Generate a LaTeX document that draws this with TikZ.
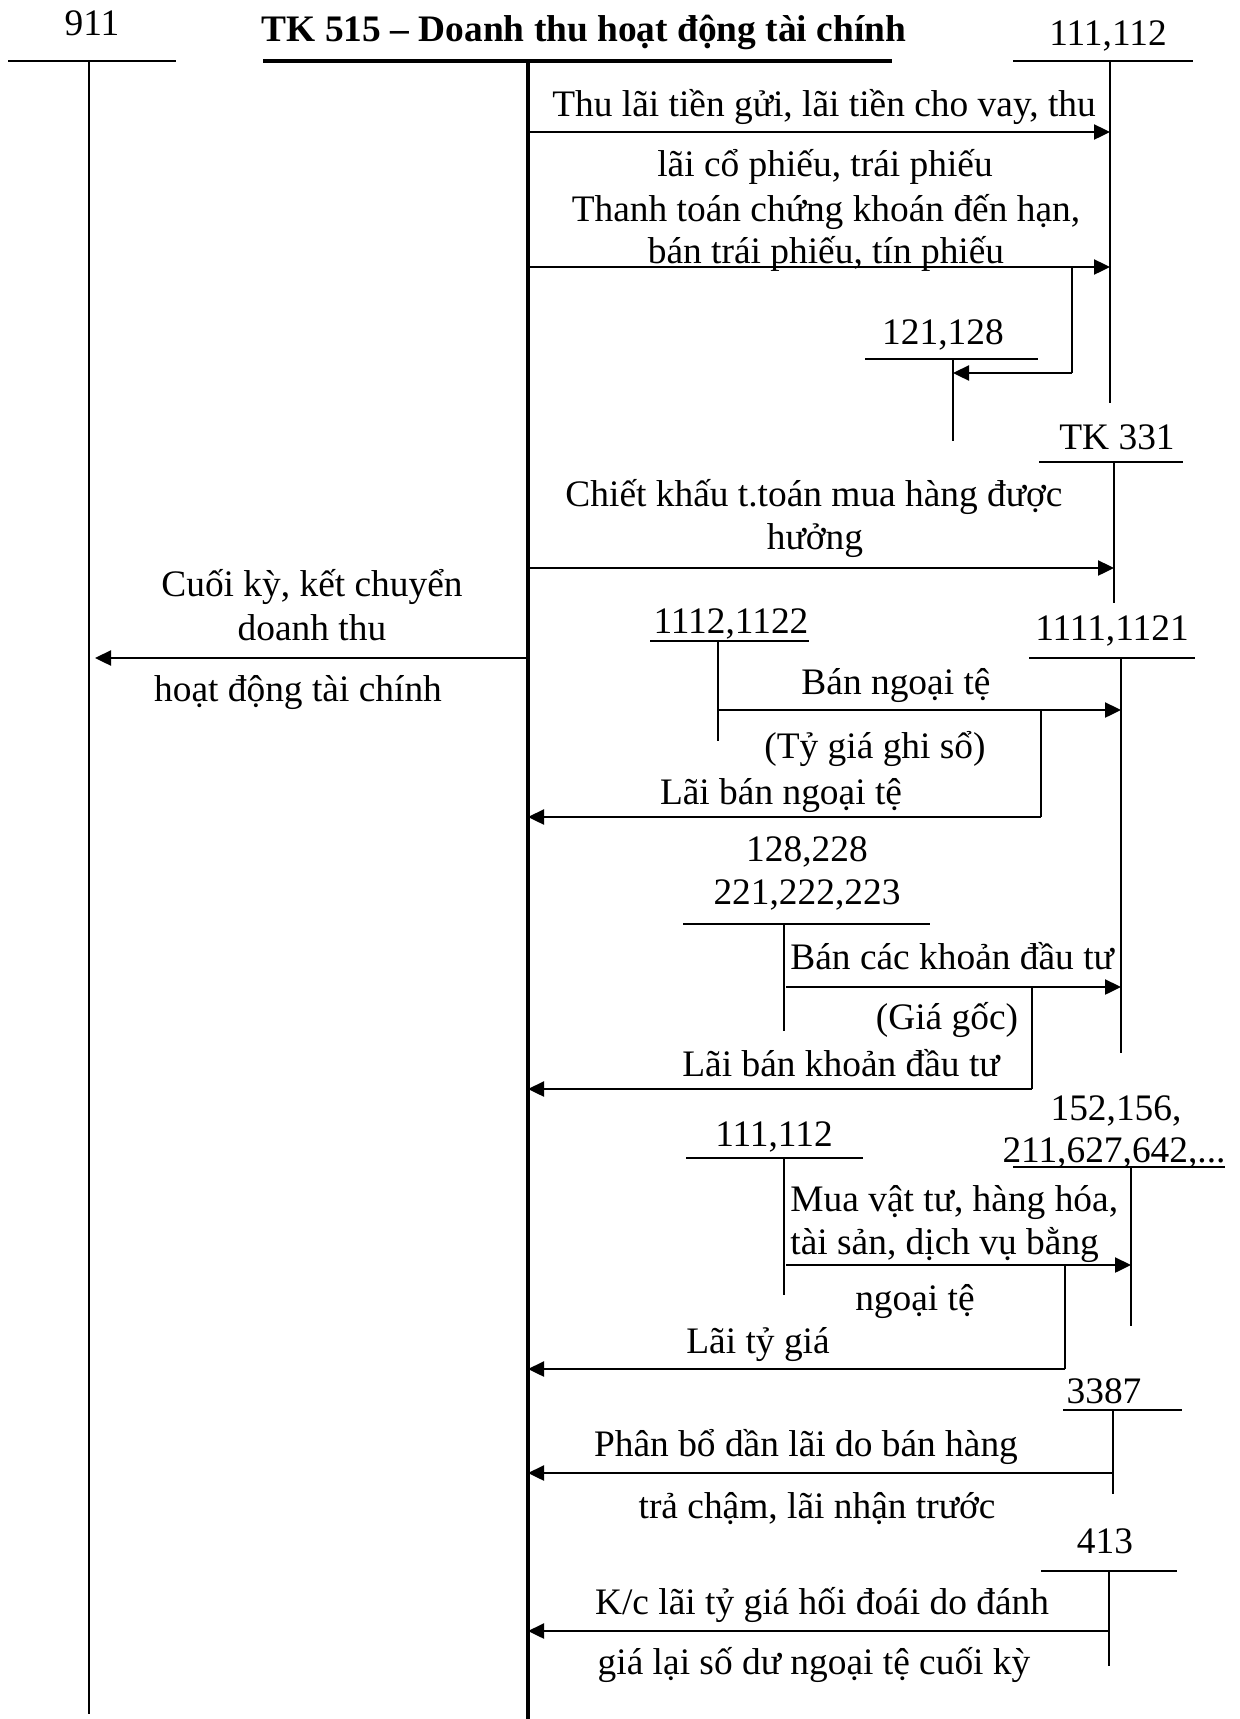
\documentclass[tikz,border=0pt]{standalone}
\usepackage{fontspec}
\setmainfont{Liberation Serif}
\usetikzlibrary{arrows.meta}
\tikzset
{
    lbl/.style   = {anchor=base, inner sep=0pt, font=\fontsize{18.7}{21}\selectfont},
    lblw/.style  = {lbl, anchor=base west},
    tline/.style = {line width=1.2pt},
    mline/.style = {line width=2pt},
    flow/.style  = {line width=1.2pt, -{Triangle[length=8pt,width=7.5pt]}},
    elbow/.style = {line width=1.2pt}
}

\begin{document}
\begin{tikzpicture}[x=0.5pt, y=-0.5pt]
\useasboundingbox (0,0) rectangle (1240,1719);
\newcommand\XA{89}
\newcommand\XB{528}

%% TK 911
\node (t911) [lbl] at (92,35) {911};
\coordinate (t911l) at (8,61);   \coordinate (t911r) at (176,61);
\coordinate (t911t) at (\XA,61); \coordinate (t911b) at (\XA,1714);
\draw[tline] (t911l) -- (t911r);
\draw[tline] (t911t) -- (t911b);

%% TK 515
\node (t515) [lbl, font=\fontsize{18.7}{21}\selectfont\bfseries] at (584,41) {TK 515 – Doanh thu hoạt động tài chính};
\coordinate (t515l) at (263,61);  \coordinate (t515r) at (892,61);
\coordinate (t515t) at (\XB,61);  \coordinate (t515b) at (\XB,1719);
\draw[mline] (t515l) -- (t515r);
\draw[mline] (t515t) -- (t515b);

%% TK 111,112
\node (t111) [lbl] at (1108,45) {111,112};
\coordinate (t111l) at (1013,61); \coordinate (t111r) at (1193,61);
\coordinate (t111t) at (1110,61); \coordinate (t111b) at (1110,403);
\draw[tline] (t111l) -- (t111r);
\draw[tline] (t111t) -- (t111b);

\coordinate (a1s) at (\XB,132); \coordinate (a1e) at (1110,132);
\draw[flow] (a1s) -- (a1e);
\node (a1u) [lbl] at (824,116) {Thu lãi tiền gửi, lãi tiền cho vay, thu};
\node (a1d) [lbl] at (825,176) {lãi cổ phiếu, trái phiếu};

\coordinate (a2s) at (\XB,267); \coordinate (a2e) at (1110,267);
\draw[flow] (a2s) -- (a2e);
\node (a2u) [lbl] at (826,221) {Thanh toán chứng khoán đến hạn,};
\node (a2d) [lbl] at (826,263) {bán trái phiếu, tín phiếu};

%% TK 121,128
\node (t121) [lbl] at (943,344) {121,128};
\coordinate (t121l) at (865,359); \coordinate (t121r) at (1038,359);
\coordinate (t121t) at (953,359); \coordinate (t121b) at (953,441);
\draw[tline] (t121l) -- (t121r);
\draw[tline] (t121t) -- (t121b);
\coordinate (b1s) at (1072,267); \coordinate (b1m) at (1072,373); \coordinate (b1e) at (953,373);
\draw[elbow] (b1s) -- (b1m);
\draw[flow] (b1m) -- (b1e);

%% TK 331
\node (t331) [lbl] at (1117,449) {TK 331};
\coordinate (t331l) at (1039,462); \coordinate (t331r) at (1183,462);
\coordinate (t331t) at (1114,462); \coordinate (t331b) at (1114,603);
\draw[tline] (t331l) -- (t331r);
\draw[tline] (t331t) -- (t331b);
\coordinate (a3s) at (\XB,568); \coordinate (a3e) at (1114,568);
\draw[flow] (a3s) -- (a3e);
\node (a3u) [lbl] at (814,506) {Chiết khấu t.toán mua hàng được};
\node (a3d) [lbl] at (815,549) {hưởng};

%% ket chuyen 911
\coordinate (k1s) at (\XB,658); \coordinate (k1e) at (95,658);
\draw[flow] (k1s) -- (k1e);
\node (k1u) [lbl] at (312,596) {Cuối kỳ, kết chuyển};
\node (k1m) [lbl] at (312,640) {doanh thu};
\node (k1d) [lbl] at (298,701) {hoạt động tài chính};

%% TK 1112,1122
\node (t1112) [lbl] at (731,633) {1112,1122};
\coordinate (t1112l) at (650,641); \coordinate (t1112r) at (809,641);
\coordinate (t1112t) at (718,641); \coordinate (t1112b) at (718,741);
\draw[tline] (t1112l) -- (t1112r);
\draw[tline] (t1112t) -- (t1112b);

%% TK 1111,1121
\node (t1111) [lbl] at (1112,640) {1111,1121};
\coordinate (t1111l) at (1029,658); \coordinate (t1111r) at (1195,658);
\coordinate (t1111t) at (1121,658); \coordinate (t1111b) at (1121,1053);
\draw[tline] (t1111l) -- (t1111r);
\draw[tline] (t1111t) -- (t1111b);

\coordinate (a4s) at (718,710); \coordinate (a4e) at (1121,710);
\draw[flow] (a4s) -- (a4e);
\node (a4u) [lbl] at (896,694) {Bán ngoại tệ};
\node (a4d) [lbl] at (875,758) {(Tỷ giá ghi sổ)};
\coordinate (b4s) at (1041,710); \coordinate (b4m) at (1041,817); \coordinate (b4e) at (\XB,817);
\draw[elbow] (b4s) -- (b4m);
\draw[flow] (b4m) -- (b4e);
\node (b4u) [lbl] at (781,804) {Lãi bán ngoại tệ};

%% TK 128,228 / 221,222,223
\node (t128) [lbl] at (807,861) {128,228};
\node (t221) [lbl] at (807,904) {221,222,223};
\coordinate (t221l) at (683,924); \coordinate (t221r) at (930,924);
\coordinate (t221t) at (784,924); \coordinate (t221b) at (784,1031);
\draw[tline] (t221l) -- (t221r);
\draw[tline] (t221t) -- (t221b);

\coordinate (a5s) at (786,987); \coordinate (a5e) at (1121,987);
\draw[flow] (a5s) -- (a5e);
\node (a5u) [lblw] at (790,969) {Bán các khoản đầu tư};
\node (a5d) [lbl] at (947,1029) {(Giá gốc)};
\coordinate (b5s) at (1032,987); \coordinate (b5m) at (1032,1089); \coordinate (b5e) at (\XB,1089);
\draw[elbow] (b5s) -- (b5m);
\draw[flow] (b5m) -- (b5e);
\node (b5u) [lbl] at (841,1076) {Lãi bán khoản đầu tư};

%% TK 152,156,...
\node (t152) [lbl] at (1116,1120) {152,156,};
\node (t211) [lbl] at (1114,1162) {211,627,642,...};
\coordinate (t211l) at (1013,1167); \coordinate (t211r) at (1225,1167);
\coordinate (t211t) at (1131,1167); \coordinate (t211b) at (1131,1326);
\draw[tline] (t211l) -- (t211r);
\draw[tline] (t211t) -- (t211b);

%% TK 111,112 (ngoai te)
\node (t111n) [lbl] at (774,1146) {111,112};
\coordinate (t111nl) at (686,1158); \coordinate (t111nr) at (863,1158);
\coordinate (t111nt) at (784,1158); \coordinate (t111nb) at (784,1295);
\draw[tline] (t111nl) -- (t111nr);
\draw[tline] (t111nt) -- (t111nb);

\coordinate (a6s) at (786,1265); \coordinate (a6e) at (1131,1265);
\draw[flow] (a6s) -- (a6e);
\node (a6u) [lblw] at (790,1211) {Mua vật tư, hàng hóa,};
\node (a6m) [lblw] at (790,1254) {tài sản, dịch vụ bằng};
\node (a6d) [lbl] at (915,1310) {ngoại tệ};
\coordinate (b6s) at (1065,1265); \coordinate (b6m) at (1065,1369); \coordinate (b6e) at (\XB,1369);
\draw[elbow] (b6s) -- (b6m);
\draw[flow] (b6m) -- (b6e);
\node (b6u) [lbl] at (758,1353) {Lãi tỷ giá};

%% TK 3387
\node (t3387) [lbl] at (1104,1403) {3387};
\coordinate (t3387l) at (1063,1410); \coordinate (t3387r) at (1182,1410);
\coordinate (t3387t) at (1113,1410); \coordinate (t3387b) at (1113,1494);
\draw[tline] (t3387l) -- (t3387r);
\draw[tline] (t3387t) -- (t3387b);
\coordinate (a7s) at (1113,1473); \coordinate (a7e) at (\XB,1473);
\draw[flow] (a7s) -- (a7e);
\node (a7u) [lbl] at (806,1456) {Phân bổ dần lãi do bán hàng};
\node (a7d) [lbl] at (817,1518) {trả chậm, lãi nhận trước};

%% TK 413
\node (t413) [lbl] at (1105,1553) {413};
\coordinate (t413l) at (1041,1571); \coordinate (t413r) at (1177,1571);
\coordinate (t413t) at (1109,1571); \coordinate (t413b) at (1109,1666);
\draw[tline] (t413l) -- (t413r);
\draw[tline] (t413t) -- (t413b);
\coordinate (a8s) at (1109,1631); \coordinate (a8e) at (\XB,1631);
\draw[flow] (a8s) -- (a8e);
\node (a8u) [lbl] at (822,1614) {K/c lãi tỷ giá hối đoái do đánh};
\node (a8d) [lbl] at (814,1674) {giá lại số dư ngoại tệ cuối kỳ};
\end{tikzpicture}
\end{document}
